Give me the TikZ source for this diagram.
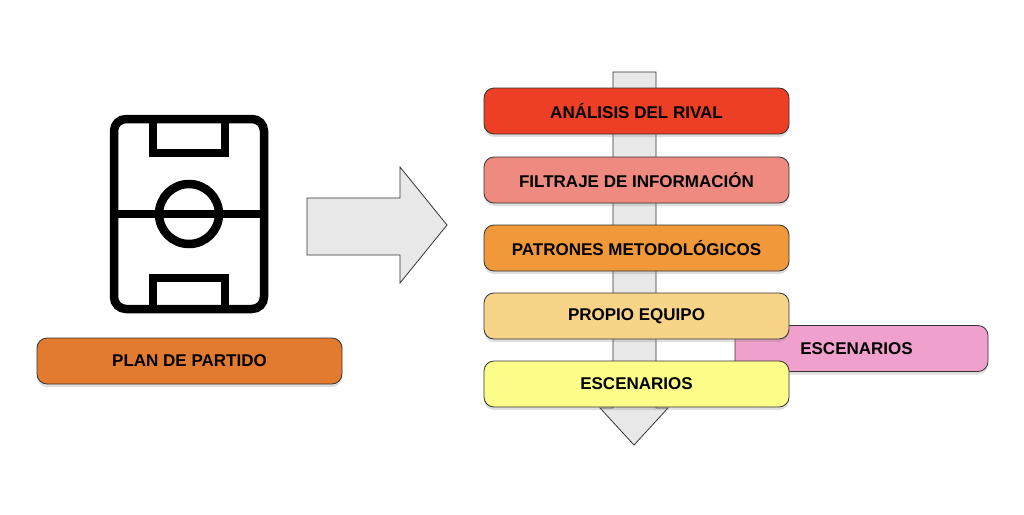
\documentclass[tikz,border=0pt]{standalone}
\usepackage{fontspec}
\setmainfont{Liberation Sans}
\usetikzlibrary{shadows}
\definecolor{cRed}{HTML}{EC3F25}
\definecolor{cSalmon}{HTML}{EE8A7F}
\definecolor{cOrange}{HTML}{F0983A}
\definecolor{cPeach}{HTML}{F8D489}
\definecolor{cYellow}{HTML}{FDFD8A}
\definecolor{cPink}{HTML}{F0A0CC}
\definecolor{cPlan}{HTML}{E27A30}
\definecolor{cGrey}{HTML}{E8E8E8}
\begin{document}
\begin{tikzpicture}[x=1pt,y=-1pt,
  box/.style={draw=black!80,line width=0.8pt,rounded corners=10pt,minimum height=46pt,font=\bfseries\fontsize{17}{18}\selectfont,drop shadow={shadow xshift=0pt,shadow yshift=-3pt,opacity=0.25}},
  pitch/.style={line width=8.5pt,draw=black}]
\useasboundingbox (0,0) rectangle (1024,514);
% pitch icon
\draw[pitch,rounded corners=12pt] (114,119) rectangle (264,309);
\draw[pitch] (153,119) -- (153,153) -- (225,153) -- (225,119);
\draw[pitch] (153,309) -- (153,278) -- (225,278) -- (225,309);
\draw[pitch] (114,214) -- (264,214);
\draw[pitch] (189,214) circle (30);
\node[box,fill=cPlan,minimum width=305pt] (plan) at (189.5,361) {PLAN DE PARTIDO};
% big arrow
\draw[fill=cGrey,draw=black!80,line width=0.8pt] (307,198) -- (400,198) -- (400,167) -- (447,225) -- (400,283) -- (400,255) -- (307,255) -- cycle;
% vertical arrow
\draw[fill=cGrey,draw=black!80,line width=0.8pt] (613,72) -- (656,72) -- (656,408) -- (668,408) -- (634,445) -- (600,408) -- (613,408) -- cycle;
\node[box,fill=cPink,minimum width=253pt] (esc2) at (861.5,348.5) {\hspace*{-10pt}ESCENARIOS};
\node[box,fill=cRed,minimum width=305pt] (a) at (636.5,111) {ANÁLISIS DEL RIVAL};
\node[box,fill=cSalmon,minimum width=305pt] (b) at (636.5,180) {FILTRAJE DE INFORMACIÓN};
\node[box,fill=cOrange,minimum width=305pt] (c) at (636.5,248) {PATRONES METODOLÓGICOS};
\node[box,fill=cPeach,minimum width=305pt] (d) at (636.5,316) {PROPIO EQUIPO};
\node[box,fill=cYellow,minimum width=305pt] (e) at (636.5,384) {ESCENARIOS};
\end{tikzpicture}
\end{document}
